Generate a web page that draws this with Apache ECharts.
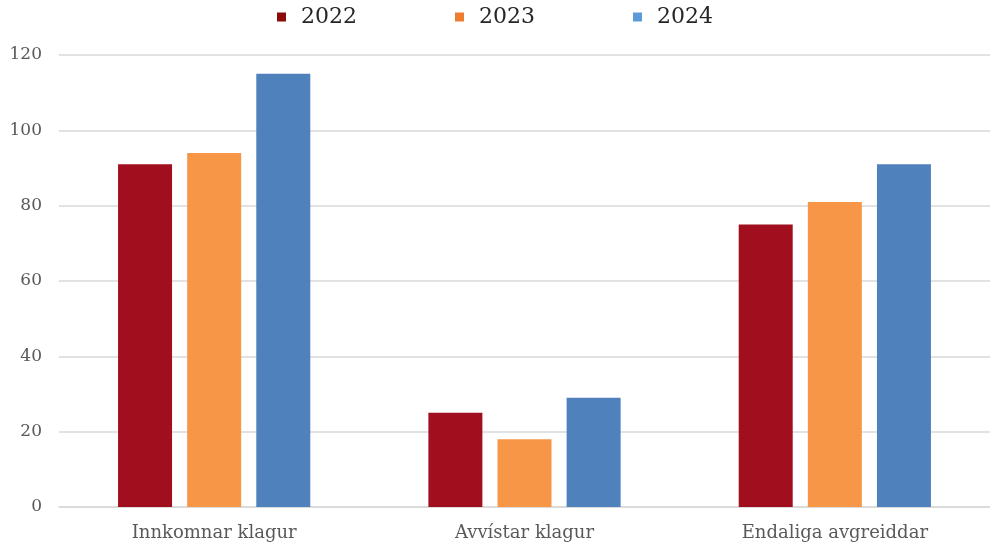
<!DOCTYPE html>
<html>
<head>
<meta charset="utf-8">
<script src="https://cdn.jsdelivr.net/npm/echarts@6/dist/echarts.min.js"></script>
<style>
  html, body { margin: 0; padding: 0; background: #fff; }
  #chart { width: 990px; height: 551px; }
</style>
</head>
<body>
<div id="chart"></div>
<script>
const categories = ['Innkomnar klagur', 'Avvístar klagur', 'Endaliga avgreiddar'];
const years = ['2022', '2023', '2024'];
const values2022 = [91, 25, 75];
const values2023 = [94, 18, 81];
const values2024 = [115, 29, 91];
const yTicks = [0, 20, 40, 60, 80, 100, 120];

const barColors = ['#A10F1E', '#F79646', '#4F81BD'];
const legendColors = ['#8B0A0A', '#ED7D31', '#5B9BD5'];
const font = '"DejaVu Serif", "Liberation Serif", serif';

const myChart = echarts.init(document.getElementById('chart'));

const seriesData = [values2022, values2023, values2024];

myChart.setOption({
  animation: false,
  textStyle: { fontFamily: font },
  legend: {
    top: 1,
    left: 'center',
    icon: 'rect',
    itemWidth: 9,
    itemHeight: 9,
    itemGap: 98,
    textStyle: {
      fontFamily: font,
      fontSize: 22,
      color: '#262626',
      padding: [0, 0, 0, 10]
    },
    data: years.map((y, i) => ({ name: y, itemStyle: { color: legendColors[i] } }))
  },
  grid: {
    left: 59,
    right: 0,
    top: 55,
    bottom: 44
  },
  xAxis: {
    type: 'category',
    data: categories,
    axisLine: { lineStyle: { color: '#D9D9D9', width: 1.5 } },
    axisTick: { show: false },
    axisLabel: {
      fontFamily: font,
      fontSize: 18,
      color: '#595959',
      margin: 17
    }
  },
  yAxis: {
    type: 'value',
    min: yTicks[0],
    max: yTicks[yTicks.length - 1],
    interval: 20,
    axisLine: { show: false },
    axisTick: { show: false },
    splitLine: { lineStyle: { color: '#D9D9D9', width: 1.5 } },
    axisLabel: {
      fontFamily: font,
      fontSize: 17,
      color: '#595959',
      margin: 17
    }
  },
  series: years.map((y, i) => ({
    name: y,
    type: 'bar',
    data: seriesData[i],
    barWidth: 54,
    barGap: '28%',
    itemStyle: { color: barColors[i] }
  }))
});

window.onresize = function () {
  myChart.resize();
};
</script>
</body>
</html>
